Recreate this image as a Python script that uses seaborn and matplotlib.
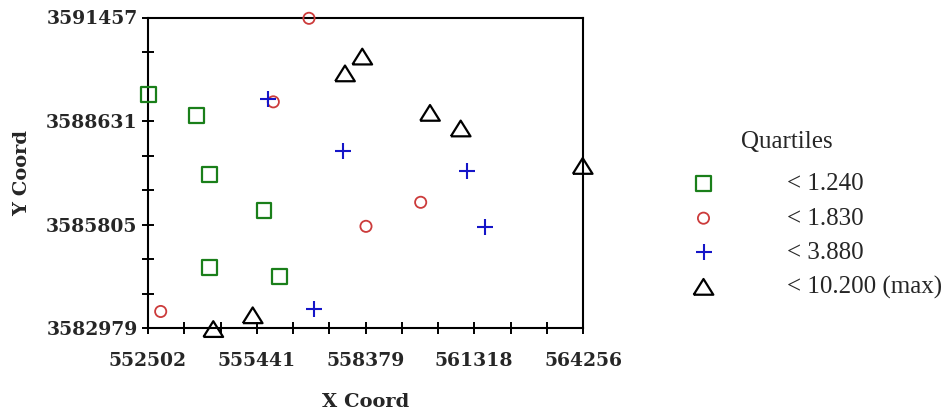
import numpy as np
import pandas as pd
import matplotlib
matplotlib.use("Agg")
import matplotlib.pyplot as plt
import seaborn as sns

# ==========================================
# data
# ==========================================
q1_x = [552510, 553818, 554158, 555636, 554158, 556050]
q1_y = [3589357, 3588771, 3587177, 3586192, 3584641, 3584395]

q2_x = [556852, 555888, 559870, 558392, 552845]
q2_y = [3591435, 3589154, 3586411, 3585755, 3583430]

q3_x = [555736, 557763, 561130, 561608, 556987]
q3_y = [3589228, 3587806, 3587267, 3585735, 3583504]

q4_x = [558292, 557825, 560122, 560951, 564248, 554266, 555331]
q4_y = [3590390, 3589931, 3588853, 3588427, 3587404, 3582950, 3583326]

quartile_labels = ["< 1.240", "< 1.830", "< 3.880", "< 10.200 (max)"]
x_ticklabels = ["552502", "555441", "558379", "561318", "564256"]
y_ticklabels = ["3582979", "3585805", "3588631", "3591457"]

df = pd.concat([
    pd.DataFrame({"x": q1_x, "y": q1_y, "q": quartile_labels[0]}),
    pd.DataFrame({"x": q2_x, "y": q2_y, "q": quartile_labels[1]}),
    pd.DataFrame({"x": q3_x, "y": q3_y, "q": quartile_labels[2]}),
    pd.DataFrame({"x": q4_x, "y": q4_y, "q": quartile_labels[3]}),
])

sns.set_style("white")
plt.rcParams["font.family"] = ["Liberation Serif", "DejaVu Serif"]
bold_font = dict(family="DejaVu Serif", weight="bold")

fig = plt.figure(figsize=(9.5, 4.13), dpi=100)
ax = fig.add_axes([148 / 950, 1 - 328 / 413, 435 / 950, 310.5 / 413])

# flattened open triangle, wider than tall
tri = [(-1, -0.8), (1, -0.8), (0, 0.8), (-1, -0.8)]

styles = {
    quartile_labels[0]: dict(marker="s", s=115, facecolor="none", edgecolor="#1a7f1a", linewidth=1.6),
    quartile_labels[1]: dict(marker="o", s=65, facecolor="none", edgecolor="#cc3b3b", linewidth=1.3),
    quartile_labels[2]: dict(marker="+", s=130, color="#1515c8", linewidth=1.5),
    quartile_labels[3]: dict(marker=tri, s=200, facecolor="none", edgecolor="black", linewidth=1.6),
}

for lab in quartile_labels:
    sub = df[df["q"] == lab]
    sns.scatterplot(data=sub, x="x", y="y", ax=ax, label=lab, clip_on=False, zorder=3, **styles[lab])

ax.set_xlim(552502, 564256)
ax.set_ylim(3582979, 3591457)

ax.set_xticks(np.linspace(552502, 564256, 5))
ax.set_xticklabels(x_ticklabels)
ax.set_xticks(np.linspace(552502, 564256, 13), minor=True)
ax.set_yticks(np.linspace(3582979, 3591457, 4))
ax.set_yticklabels(y_ticklabels)
ax.set_yticks(np.linspace(3582979, 3591457, 10), minor=True)

for sp in ax.spines.values():
    sp.set_visible(True)
    sp.set_color("black")
    sp.set_linewidth(1.5)

ax.tick_params(which="both", direction="inout", length=9, width=1.4, color="black",
               bottom=True, left=True, top=False, right=False)
ax.tick_params(axis="x", which="major", pad=13)
ax.tick_params(axis="y", which="major", pad=3)
for t in ax.get_xticklabels() + ax.get_yticklabels():
    t.set_fontfamily("DejaVu Serif")
    t.set_fontweight("bold")
    t.set_fontsize(13.5)

ax.set_xlabel("X Coord", fontsize=14, labelpad=16, **bold_font)
ax.set_ylabel("Y Coord", fontsize=14, labelpad=11, **bold_font)

leg = ax.legend(loc="upper left", bbox_to_anchor=(691 / 950, 1 - 173 / 413),
                bbox_transform=fig.transFigure, frameon=False, fontsize=18,
                handletextpad=2.85, labelspacing=0.47, handlelength=1.0,
                borderaxespad=0, borderpad=0)
fig.text(787 / 950, 1 - 142 / 413, "Quartiles", fontsize=18, ha="center", va="center")

fig.savefig("out.png", dpi=100)
